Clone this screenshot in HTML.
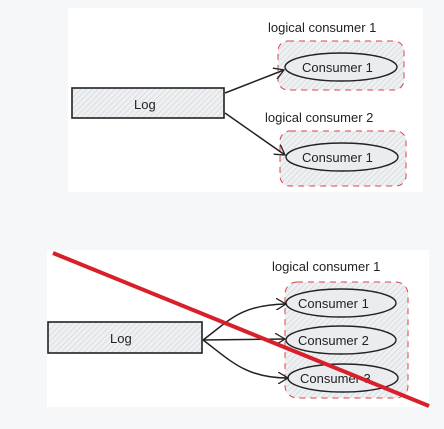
<!DOCTYPE html>
<html><head><style>
body{margin:0;background:#f6f7f9;width:444px;height:429px;overflow:hidden}
svg{display:block}
text{font-family:"Liberation Sans",sans-serif;font-size:13px;fill:#222}
</style></head><body>
<svg width="444" height="429" viewBox="0 0 444 429">
<defs>
<pattern id="h" width="4" height="4" patternUnits="userSpaceOnUse" patternTransform="rotate(45)">
<rect width="4" height="4" fill="#eef0f2"/><line x1="0" y1="0" x2="0" y2="4" stroke="#cfd3d8" stroke-width="1.2"/>
</pattern>
<marker id="a" markerWidth="12" markerHeight="12" refX="10" refY="6" orient="auto" markerUnits="userSpaceOnUse">
<path d="M0,0 L10,6 L0,12" fill="none" stroke="#222" stroke-width="1.3"/>
</marker>
</defs>
<rect x="68" y="8" width="355" height="184" fill="#fff"/>
<rect x="47" y="250" width="382" height="157" fill="#fff"/>
<!-- top -->
<rect x="72" y="88" width="152" height="30" fill="url(#h)" stroke="#222" stroke-width="1.6"/>
<text x="134" y="109">Log</text>
<text x="268" y="32">logical consumer 1</text>
<rect x="278" y="41" width="126" height="49" rx="10" fill="url(#h)" stroke="#d9434a" stroke-dasharray="6 5"/>
<ellipse cx="341" cy="67" rx="56" ry="14" fill="#eaecef" stroke="#222" stroke-width="1.4"/>
<text x="302" y="72">Consumer 1</text>
<text x="265" y="122">logical consumer 2</text>
<rect x="280" y="131" width="126" height="55" rx="10" fill="url(#h)" stroke="#d9434a" stroke-dasharray="6 5"/>
<ellipse cx="342" cy="157" rx="56" ry="14" fill="#eaecef" stroke="#222" stroke-width="1.4"/>
<text x="302" y="162">Consumer 1</text>
<line x1="225" y1="93" x2="284" y2="70" stroke="#222" stroke-width="1.5" marker-end="url(#a)"/>
<line x1="225" y1="113" x2="285" y2="155" stroke="#222" stroke-width="1.5" marker-end="url(#a)"/>
<!-- bottom -->
<rect x="48" y="322" width="154" height="31" fill="url(#h)" stroke="#222" stroke-width="1.6"/>
<text x="110" y="343">Log</text>
<text x="272" y="271">logical consumer 1</text>
<rect x="285" y="282" width="123" height="116" rx="12" fill="url(#h)" stroke="#d9434a" stroke-dasharray="6 5"/>
<ellipse cx="341" cy="303" rx="55" ry="14" fill="#eaecef" stroke="#222" stroke-width="1.4"/>
<text x="298" y="308">Consumer 1</text>
<ellipse cx="341" cy="340" rx="55" ry="14" fill="#eaecef" stroke="#222" stroke-width="1.4"/>
<text x="298" y="345">Consumer 2</text>
<ellipse cx="343" cy="378" rx="55" ry="14" fill="#eaecef" stroke="#222" stroke-width="1.4"/>
<text x="300" y="383">Consumer 3</text>
<path d="M203,340 C230,320 240,305 286,304" fill="none" stroke="#222" stroke-width="1.5" marker-end="url(#a)"/>
<path d="M203,340 L285,339" fill="none" stroke="#222" stroke-width="1.5" marker-end="url(#a)"/>
<path d="M203,340 C230,360 245,378 288,378" fill="none" stroke="#222" stroke-width="1.5" marker-end="url(#a)"/>
<line x1="53" y1="253" x2="429" y2="406" stroke="#d8202a" stroke-width="4"/>
</svg>
</body></html>
